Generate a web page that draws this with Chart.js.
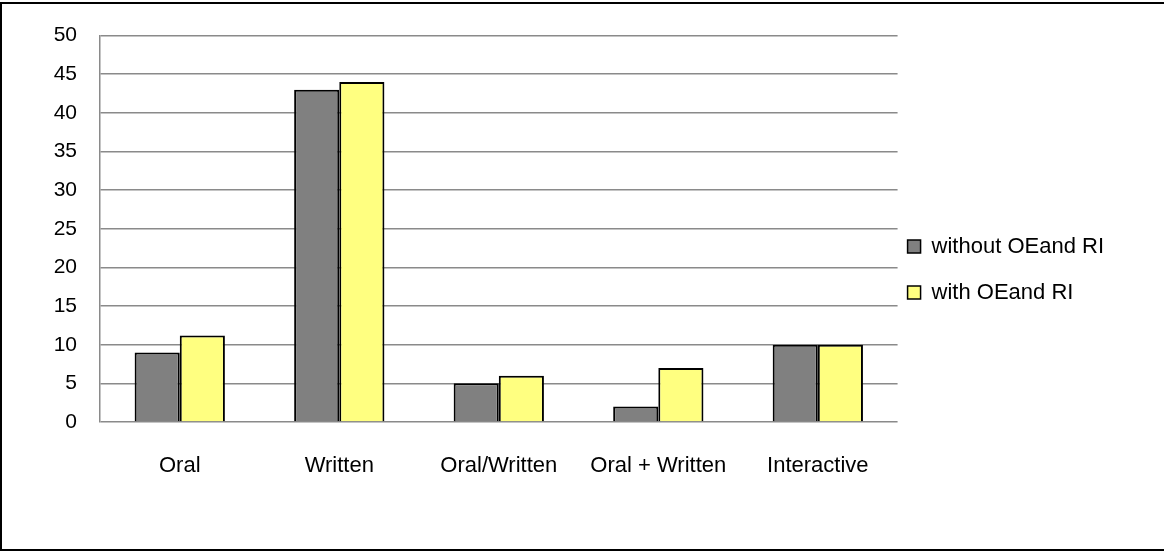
<!DOCTYPE html>
<html>
<head>
<meta charset="utf-8">
<title>Presentation modes</title>
<script src="https://cdn.jsdelivr.net/npm/chart.js@4/dist/chart.umd.min.js"></script>
<style>
    html, body { margin: 0; padding: 0; background: #fff; overflow: hidden; }
    #wrap  { position: relative; width: 1164px; height: 554px; }
    #frame { position: absolute; left: 0; top: 2px; width: 1170px; height: 549px; border: 2px solid #000; box-sizing: border-box; pointer-events: none; }
</style>
</head>
<body>
<div id="wrap">
    <canvas id="modes-chart" width="1164" height="554"></canvas>
    <div id="frame"></div>
</div>
<script>
const categories  = ['Oral', 'Written', 'Oral/Written', 'Oral + Written', 'Interactive']
const withoutOeRi = [9, 43, 5, 2, 10]
const withOeRi    = [11.2, 44, 6, 7, 10]
const seriesNames = ['without OEand RI', 'with OEand RI']
const yTicks      = [0, 5, 10, 15, 20, 25, 30, 35, 40, 45, 50]

const gridGray = '#8a8a8a'
const fontName = '"Liberation Sans", Arial, sans-serif'

const context = document.getElementById('modes-chart')
const chart   = new Chart(context, {
    type: 'bar',
    data: {
        labels: categories,
        datasets: [{
            label: seriesNames[0],
            data: withoutOeRi,
            backgroundColor: '#808080',
            borderColor: '#000',
            borderWidth: 2
        }, {
            label: seriesNames[1],
            data: withOeRi,
            backgroundColor: '#ffff80',
            borderColor: '#000',
            borderWidth: 2
        }]
    },
    options: {
        responsive: false,
        animation: false,
        events: [],
        categoryPercentage: 0.566,
        barPercentage: 1.0,
        layout: {
            padding: { top: 33, right: 50, bottom: 34, left: 0 }
        },
        plugins: {
            tooltip: { enabled: false },
            legend: {
                position: 'right',
                labels: {
                    color: '#000',
                    boxWidth: 13,
                    boxHeight: 13,
                    padding: 10,
                    font: { family: fontName, size: 22, lineHeight: 36 / 22 },
                    // single-line arrays so each row takes the font line height
                    generateLabels: function (chart) {
                        return Chart.defaults.plugins.legend.labels.generateLabels(chart)
                            .map(item => Object.assign(item, { text: [item.text], lineWidth: 1.5 }))
                    }
                }
            }
        },
        scales: {
            x: {
                grid: { display: false },
                border: { display: false },
                ticks: {
                    color: '#000',
                    padding: 23,
                    maxRotation: 0,
                    font: { family: fontName, size: 22 }
                },
                afterFit: function (scale) { scale.height = 98 }
            },
            y: {
                min: 0,
                max: 50,
                afterBuildTicks: function (scale) { scale.ticks = yTicks.map(v => ({ value: v })) },
                grid: { color: gridGray, lineWidth: 1.5, drawTicks: false },
                border: { color: gridGray, width: 1.5 },
                ticks: {
                    color: '#000',
                    padding: 23,
                    font: { family: fontName, size: 21 }
                },
                afterFit: function (scale) { scale.width = 100 }
            }
        }
    }
})
</script>
</body>
</html>
